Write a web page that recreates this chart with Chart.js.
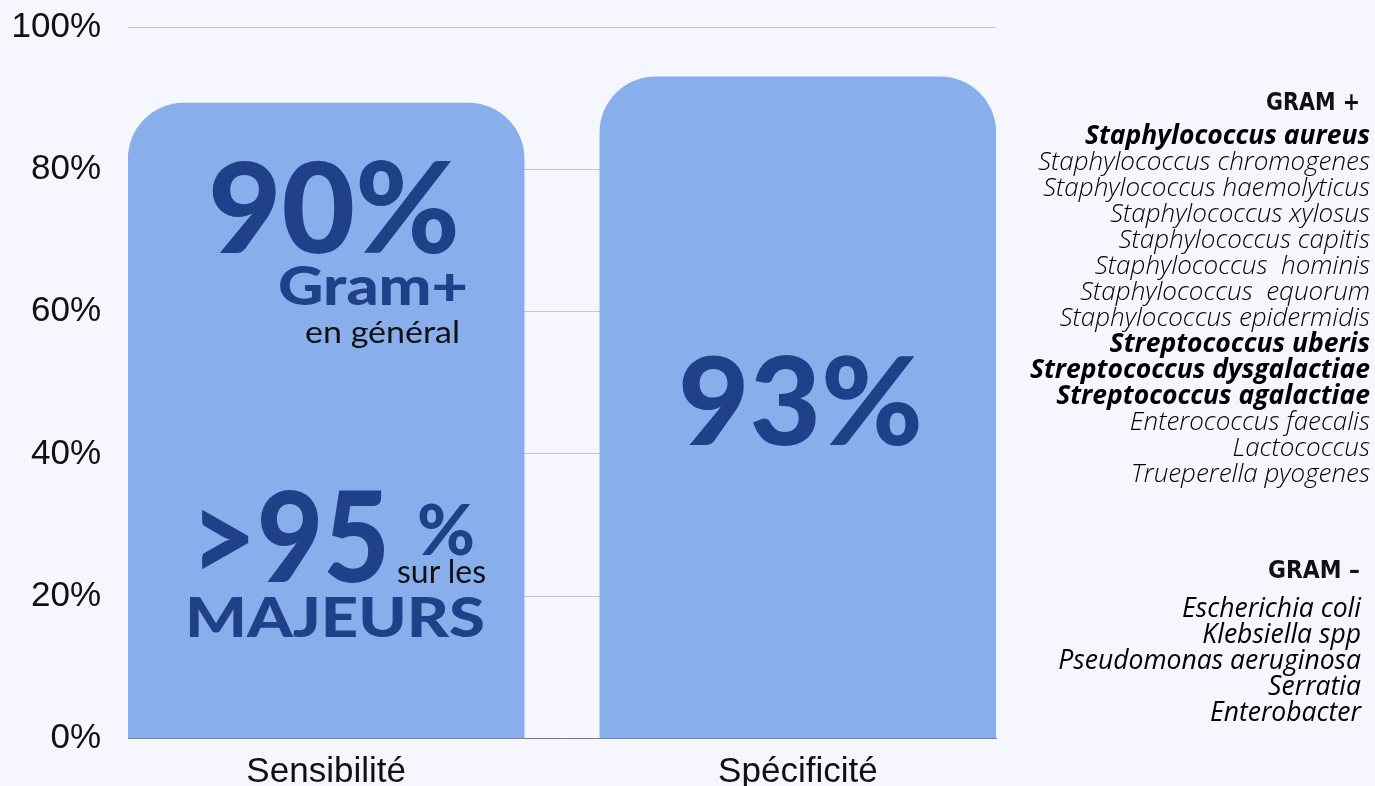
<!DOCTYPE html>
<html>
<head>
<meta charset="utf-8">
<script src="https://cdn.jsdelivr.net/npm/chart.js@4"></script>
<style>
  html, body { margin: 0; padding: 0; background: #f5f6fe; }
  #wrap { position: relative; width: 1375px; height: 786px; overflow: hidden; }
  #c { position: absolute; left: 0; top: 0; }
  #ov { position: absolute; left: 0; top: 0; pointer-events: none; }
</style>
</head>
<body>
<div id="wrap">
  <canvas id="c" width="1375" height="786"></canvas>
  <svg id="ov" width="1375" height="786" xmlns="http://www.w3.org/2000/svg"></svg>
</div>
<script>
// ---- data ----
const categories = ['Sensibilité', 'Spécificité'];
const values = [89.3, 93];
const yTickValues = [0, 20, 40, 60, 80, 100];

const gramPosTitle = 'GRAM +';
const gramPosSpecies = [
  'Staphylococcus aureus',
  'Staphylococcus chromogenes',
  'Staphylococcus haemolyticus',
  'Staphylococcus xylosus',
  'Staphylococcus capitis',
  'Staphylococcus\u00a0 hominis',
  'Staphylococcus\u00a0 equorum',
  'Staphylococcus epidermidis',
  'Streptococcus uberis',
  'Streptococcus dysgalactiae',
  'Streptococcus agalactiae',
  'Enterococcus faecalis',
  'Lactococcus',
  'Trueperella pyogenes'
];
const gramPosMajor = [true, false, false, false, false, false, false, false, true, true, true, false, false, false];
const gramNegTitle = 'GRAM \u2013';
const gramNegSpecies = ['Escherichia coli', 'Klebsiella spp', 'Pseudomonas aeruginosa', 'Serratia', 'Enterobacter'];

// ---- chart ----
const barColor = '#88afeb';
const pad = { left: 11, right: 379, top: 27, bottom: 0 };
const chart = new Chart(document.getElementById('c'), {
  type: 'bar',
  data: {
    datasets: [{
      data: values.map((v, i) => ({ x: i, y: v })),
      backgroundColor: barColor,
      borderWidth: 0,
      borderRadius: { topLeft: 56, topRight: 56, bottomLeft: 0, bottomRight: 0 },
      borderSkipped: 'bottom',
      barThickness: 396
    }]
  },
  options: {
    responsive: false,
    animation: false,
    devicePixelRatio: 1,
    layout: { padding: pad },
    plugins: { legend: { display: false }, tooltip: { enabled: false } },
    scales: {
      x: {
        type: 'linear',
        offset: false,
        min: -0.42,
        max: 1.42,
        afterBuildTicks: s => { s.ticks = categories.map((c, i) => ({ value: i })); },
        grid: { display: false, drawTicks: false, offset: false },
        border: { display: true, color: '#7a7a7a', width: 1 },
        ticks: {
          callback: v => categories[v],
          font: { family: 'Liberation Sans', size: 35, lineHeight: 1.2 },
          color: '#111',
          padding: 13,
          maxRotation: 0,
          autoSkip: false
        }
      },
      y: {
        min: 0,
        max: 100,
        afterBuildTicks: s => { s.ticks = yTickValues.map(v => ({ value: v })); },
        afterFit: s => { s.paddingTop = 0; s.paddingBottom = 0; },
        grid: { color: '#c6c6cc', lineWidth: 1, drawTicks: false },
        border: { display: false },
        ticks: {
          callback: v => v + '%',
          font: { family: 'Liberation Sans', size: 35 },
          color: '#111',
          padding: 27
        }
      }
    }
  }
});
// fit the plot area to the reference frame
const target = { left: 128, top: 27, right: 996, bottom: 738.5 };
for (let k = 0; k < 3; k++) {
  const a = chart.chartArea;
  pad.left += target.left - a.left;
  pad.top += target.top - a.top;
  pad.right += a.right - target.right;
  pad.bottom += a.bottom - target.bottom;
  chart.options.layout.padding = Object.assign({}, pad);
  chart.update();
}

// ---- text overlay ----
const NS = 'http://www.w3.org/2000/svg';
const svg = document.getElementById('ov');
function txt(str, x, y, o) {
  const t = document.createElementNS(NS, 'text');
  t.textContent = str;
  t.setAttribute('x', x);
  t.setAttribute('y', y);
  t.setAttribute('font-family', o.family || 'Lato');
  t.setAttribute('font-size', o.size);
  t.setAttribute('font-weight', o.weight || 400);
  if (o.italic) t.setAttribute('font-style', 'italic');
  t.setAttribute('fill', o.color || '#111');
  if (o.anchor) t.setAttribute('text-anchor', o.anchor);
  if (o.len) { t.setAttribute('textLength', o.len); t.setAttribute('lengthAdjust', 'spacingAndGlyphs'); }
  svg.appendChild(t);
}
const dark = '#21408a';
// bar 1 annotations
txt('90%', 208, 253, { size: 126, weight: 900, color: dark, len: 252 });
txt('Gram+', 278, 305, { size: 53, weight: 900, color: dark, len: 190 });
txt('en général', 305, 343, { size: 31, weight: 400, color: '#111', len: 155 });
txt('>95', 190, 582, { size: 126, weight: 900, color: dark, len: 200 });
txt('%', 417, 555, { size: 70, weight: 900, color: dark, len: 58 });
txt('sur les', 397, 583, { size: 32, weight: 400, color: '#111', len: 89 });
txt('MAJEURS', 185, 637, { size: 56, weight: 900, color: dark, len: 300 });
// bar 2 annotation
txt(Math.round(values[1]) + '%', 678, 445, { size: 122, weight: 900, color: dark, len: 245 });

// right panel
txt(gramPosTitle, 1360, 110, { family: 'DejaVu Sans', size: 24, weight: 700, color: '#111', anchor: 'end', len: 94 });
gramPosSpecies.forEach((s, i) => {
  const major = gramPosMajor[i];
  txt(s, 1370, 144 + i * 26, { family: 'Open Sans', size: major ? 26.5 : 26, weight: major ? 700 : 300, italic: true, color: '#000', anchor: 'end' });
});
txt(gramNegTitle, 1360, 578, { family: 'DejaVu Sans', size: 24, weight: 700, color: '#111', anchor: 'end', len: 92 });
gramNegSpecies.forEach((s, i) => {
  txt(s, 1361, 617 + i * 26, { family: 'Open Sans', size: 26.5, weight: 400, italic: true, color: '#000', anchor: 'end' });
});
</script>
</body>
</html>
